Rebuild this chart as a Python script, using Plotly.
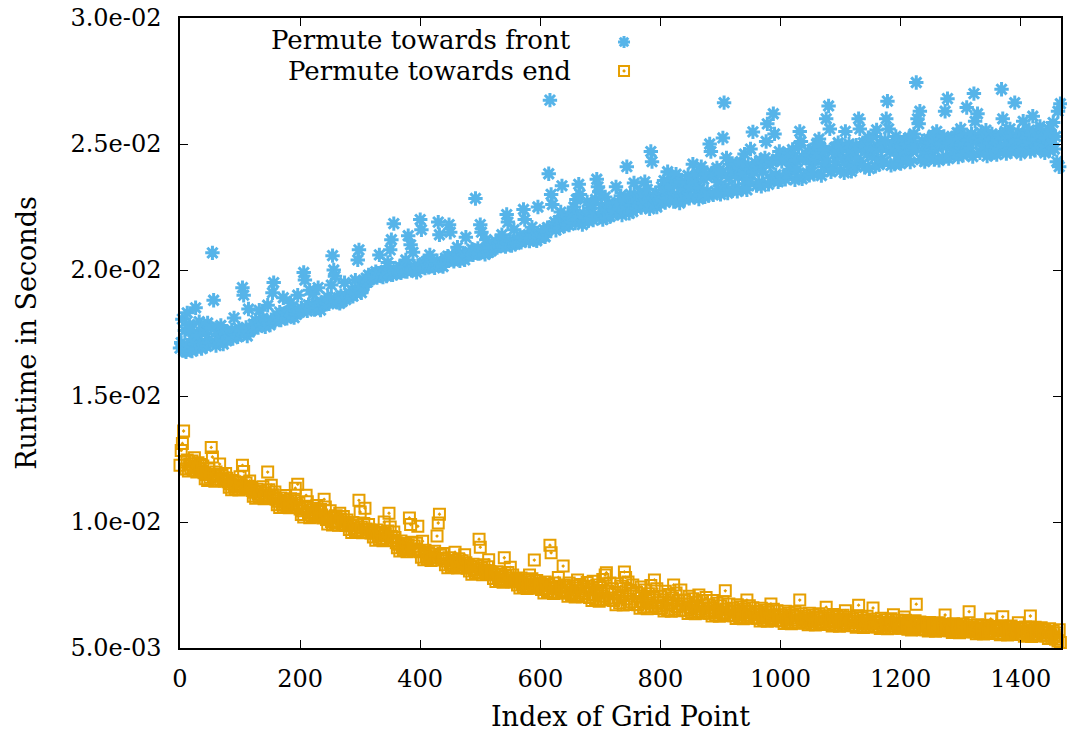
import plotly.graph_objects as go

# Measured runtimes in units of 1e-5 s, one value per even grid-point index (0, 2, 4, ...)
front_runtime = [
    1690, 1712, 1805, 1680, 1760, 1675, 1830, 1702, 1784, 1760, 1678, 1720, 1705, 1850, 1686, 1740, 1795, 1699, 1688, 1770,
    1702, 1750, 1697, 1790, 1725, 1709, 1770, 2068, 1880, 1715, 1700, 1760, 1740, 1711, 1780, 1722, 1706, 1755, 1745, 1719,
    1730, 1748, 1739, 1762, 1728, 1810, 1754, 1741, 1735, 1768, 1745, 1760, 1930, 1900, 1750, 1772, 1738, 1845, 1756, 1764,
    1768, 1785, 1776, 1800, 1790, 1772, 1840, 1795, 1781, 1808, 1787, 1775, 1799, 1860, 1791, 1782, 1803, 1910, 1950, 1796,
    1805, 1820, 1812, 1833, 1801, 1826, 1890, 1815, 1830, 1808, 1822, 1836, 1870, 1817, 1829, 1811, 1838, 1824, 1900, 1832,
    1835, 1848, 1840, 1990, 1960, 1852, 1838, 1861, 1920, 1845, 1858, 1905, 1843, 1866, 1850, 1930, 1856, 1841, 1863, 1870,
    1862, 1878, 1870, 1893, 1866, 1885, 1940, 2057, 2000, 1975, 1880, 1872, 1890, 1868, 1898, 1876, 1887, 1950, 1883, 1895,
    1893, 1908, 1900, 1921, 1896, 1915, 1960, 1905, 2040, 2080, 1918, 1910, 1927, 1935, 1955, 1968, 1952, 1980, 1962, 1975,
    1968, 1982, 1975, 1993, 1970, 1987, 2060, 1978, 1990, 1972, 1985, 1998, 1976, 2030, 1988, 2080, 2120, 1981, 2184, 1994,
    1987, 2001, 1992, 2013, 1989, 2008, 1996, 2011, 2040, 1994, 2136, 2005, 2100, 1999, 2070, 2015, 2002, 1991, 2018, 2009,
    2200, 2160, 2012, 2028, 2008, 2034, 2019, 2011, 2060, 2025, 2016, 2031, 2009, 2022, 2037, 2190, 2140, 2018, 2029, 2014,
    2032, 2047, 2038, 2055, 2180, 2150, 2041, 2058, 2035, 2050, 2044, 2090, 2061, 2037, 2053, 2046, 2059, 2040, 2130, 2057,
    2058, 2072, 2063, 2083, 2060, 2077, 2284, 2068, 2086, 2065, 2180, 2150, 2074, 2081, 2062, 2120, 2079, 2070, 2088, 2076,
    2087, 2100, 2092, 2113, 2089, 2106, 2095, 2111, 2140, 2098, 2108, 2093, 2220, 2190, 2104, 2116, 2097, 2110, 2160, 2102,
    2108, 2122, 2113, 2136, 2110, 2129, 2240, 2200, 2118, 2133, 2140, 2115, 2127, 2170, 2138, 2121, 2131, 2116, 2250, 2139,
    2128, 2147, 2135, 2160, 2132, 2155, 2168, 2382, 2674, 2300, 2260, 2175, 2190, 2158, 2182, 2196, 2166, 2230, 2334, 2188,
    2174, 2195, 2182, 2218, 2178, 2205, 2189, 2226, 2250, 2186, 2280, 2198, 2340, 2300, 2212, 2180, 2223, 2192, 2208, 2270,
    2195, 2230, 2205, 2260, 2198, 2215, 2280, 2360, 2330, 2310, 2210, 2245, 2200, 2225, 2290, 2207, 2238, 2265, 2212, 2250,
    2220, 2252, 2235, 2330, 2228, 2268, 2243, 2295, 2218, 2260, 2238, 2280, 2410, 2248, 2225, 2300, 2257, 2232, 2345, 2271,
    2245, 2278, 2255, 2310, 2248, 2290, 2265, 2350, 2252, 2320, 2270, 2243, 2470, 2430, 2285, 2260, 2305, 2250, 2295, 2275,
    2265, 2330, 2275, 2355, 2268, 2312, 2390, 2285, 2345, 2325, 2290, 2272, 2365, 2380, 2280, 2340, 2266, 2350, 2295, 2318,
    2280, 2350, 2292, 2375, 2285, 2330, 2365, 2420, 2288, 2345, 2300, 2385, 2282, 2325, 2410, 2296, 2360, 2290, 2380, 2312,
    2295, 2500, 2470, 2385, 2298, 2372, 2310, 2405, 2350, 2395, 2300, 2385, 2524, 2664, 2330, 2445, 2305, 2365, 2420, 2400,
    2315, 2392, 2328, 2420, 2312, 2370, 2405, 2430, 2320, 2380, 2460, 2342, 2318, 2415, 2360, 2480, 2400, 2548, 2388, 2425,
    2335, 2412, 2348, 2435, 2332, 2390, 2425, 2445, 2510, 2580, 2340, 2420, 2365, 2430, 2620, 2540, 2378, 2440, 2350, 2470,
    2358, 2430, 2370, 2455, 2360, 2440, 2380, 2465, 2400, 2420, 2478, 2450, 2358, 2435, 2398, 2490, 2550, 2510, 2362, 2445,
    2373, 2445, 2385, 2470, 2376, 2455, 2420, 2480, 2380, 2438, 2500, 2465, 2520, 2490, 2375, 2450, 2410, 2475, 2600, 2430,
    2651, 2560, 2390, 2475, 2400, 2485, 2430, 2460, 2505, 2470, 2395, 2490, 2440, 2386, 2550, 2480, 2420, 2500, 2455, 2392,
    2403, 2470, 2415, 2495, 2440, 2600, 2560, 2480, 2420, 2505, 2408, 2490, 2460, 2525, 2402, 2485, 2450, 2530, 2475, 2412,
    2556, 2480, 2418, 2505, 2440, 2495, 2430, 2515, 2600, 2670, 2560, 2470, 2415, 2500, 2485, 2420, 2530, 2510, 2455, 2490,
    2422, 2490, 2432, 2515, 2460, 2500, 2440, 2525, 2428, 2505, 2478, 2540, 2485, 2744, 2600, 2580, 2630, 2438, 2512, 2470,
    2430, 2495, 2440, 2520, 2465, 2505, 2450, 2535, 2438, 2510, 2550, 2485, 2435, 2518, 2500, 2445, 2530, 2630, 2490, 2680,
    2442, 2505, 2452, 2525, 2475, 2510, 2462, 2545, 2448, 2520, 2560, 2495, 2455, 2535, 2500, 2645, 2470, 2515, 2485, 2540,
    2450, 2700, 2590, 2510, 2620, 2525, 2465, 2545, 2480, 2515, 2495, 2555, 2452, 2530, 2505, 2460, 2540, 2490, 2520, 2470,
    2458, 2515, 2480, 2535, 2717, 2600, 2490, 2550, 2462, 2520, 2500, 2560, 2470, 2530, 2495, 2664, 2510, 2475, 2545, 2485,
    2462, 2515, 2590, 2540, 2480, 2525, 2495, 2555, 2470, 2535, 2610, 2505, 2475, 2550, 2520, 2485, 2570, 2500, 2530, 2478,
    2465, 2525, 2490, 2560, 2475, 2540, 2500, 2585, 2480, 2530, 2430, 2630, 2410, 2660,
]

end_runtime = [
    1225, 1284, 1312, 1361, 1238, 1210, 1246, 1202, 1230, 1215, 1242, 1205, 1255, 1220, 1198, 1235, 1212, 1228, 1200, 1222,
    1195, 1172, 1188, 1165, 1210, 1178, 1296, 1258, 1182, 1162, 1198, 1170, 1190, 1230, 1168, 1185, 1176, 1163, 1192, 1174,
    1160, 1138, 1152, 1128, 1165, 1145, 1132, 1158, 1140, 1127, 1180, 1148, 1225, 1200, 1135, 1155, 1130, 1142, 1163, 1137,
    1125, 1102, 1118, 1094, 1130, 1110, 1097, 1122, 1105, 1140, 1092, 1115, 1100, 1198, 1128, 1096, 1146, 1108, 1093, 1119,
    1090, 1068, 1082, 1058, 1095, 1072, 1061, 1086, 1105, 1065, 1078, 1057, 1092, 1070, 1059, 1084, 1134, 1066, 1150, 1075,
    1052, 1030, 1045, 1020, 1058, 1106, 1080, 1038, 1017, 1048, 1026, 1055, 1034, 1019, 1065, 1042, 1022, 1050, 1028, 1016,
    1090, 1060, 1010, 992, 1020, 1045, 1002, 988, 1018, 996, 1025, 1005, 987, 1035, 1012, 990, 1022, 999, 986, 1008,
    992, 970, 985, 958, 998, 975, 962, 988, 966, 1086, 1040, 980, 957, 994, 1055, 972, 960, 990, 968, 956,
    962, 940, 955, 928, 968, 945, 932, 958, 936, 926, 1000, 950, 930, 964, 1035, 980, 942, 927, 960, 938,
    918, 898, 912, 885, 925, 902, 890, 915, 895, 882, 908, 1016, 990, 920, 887, 905, 893, 916, 983, 884,
    882, 860, 924, 850, 888, 866, 853, 878, 857, 847, 872, 862, 884, 849, 944, 996, 1031, 868, 856, 875,
    852, 830, 845, 818, 858, 836, 822, 848, 826, 880, 840, 817, 854, 832, 820, 846, 828, 870, 838, 816,
    828, 806, 821, 793, 832, 812, 798, 824, 802, 932, 900, 816, 791, 830, 808, 796, 822, 850, 804, 792,
    798, 776, 791, 764, 803, 782, 768, 794, 772, 761, 858, 786, 766, 800, 778, 820, 763, 790, 770, 762,
    773, 750, 766, 738, 778, 756, 742, 770, 747, 736, 762, 790, 740, 775, 752, 849, 744, 768, 737, 758,
    756, 732, 748, 718, 762, 738, 724, 752, 908, 878, 742, 716, 758, 735, 720, 780, 745, 728, 717, 825,
    750, 722, 742, 705, 758, 730, 712, 746, 718, 702, 738, 770, 708, 752, 726, 703, 744, 716, 735, 760,
    745, 700, 730, 688, 765, 712, 695, 750, 720, 686, 740, 705, 772, 692, 790, 799, 725, 690, 758, 698,
    735, 688, 720, 672, 755, 700, 680, 745, 708, 671, 802, 780, 694, 762, 676, 728, 684, 750, 714, 673,
    720, 672, 705, 658, 742, 685, 664, 730, 692, 656, 715, 678, 748, 662, 700, 770, 668, 735, 680, 657,
    705, 660, 690, 647, 725, 672, 652, 712, 680, 646, 698, 750, 656, 718, 665, 688, 648, 730, 675, 650,
    690, 650, 675, 637, 705, 660, 642, 695, 666, 636, 682, 645, 710, 655, 640, 688, 670, 638, 700, 648,
    672, 638, 660, 627, 688, 645, 631, 678, 652, 626, 668, 640, 684, 634, 727, 655, 629, 675, 642, 628,
    658, 628, 648, 617, 672, 635, 621, 664, 640, 616, 655, 630, 690, 624, 668, 643, 618, 660, 633, 619,
    645, 618, 636, 607, 658, 624, 611, 650, 630, 606, 642, 620, 675, 613, 654, 627, 608, 648, 622, 609,
    632, 607, 624, 597, 646, 614, 601, 638, 618, 596, 630, 610, 644, 603, 626, 598, 690, 636, 612, 600,
    626, 600, 618, 592, 638, 607, 595, 630, 612, 591, 622, 604, 636, 597, 620, 603, 593, 628, 662, 606,
    620, 596, 612, 587, 633, 602, 590, 625, 606, 586, 616, 598, 630, 592, 648, 610, 588, 622, 600, 589,
    615, 590, 606, 582, 628, 670, 585, 620, 600, 581, 611, 594, 626, 587, 608, 597, 583, 659, 604, 584,
    606, 584, 598, 577, 618, 590, 580, 612, 594, 576, 602, 587, 616, 579, 632, 596, 578, 610, 588, 581,
    600, 578, 593, 623, 610, 585, 574, 605, 589, 571, 597, 581, 608, 674, 595, 576, 603, 586, 572, 598,
    592, 572, 586, 567, 601, 578, 569, 596, 582, 566, 590, 575, 600, 570, 588, 579, 568, 631, 594, 573,
    588, 568, 581, 562, 596, 574, 564, 591, 577, 561, 585, 570, 595, 566, 583, 575, 563, 644, 590, 569,
    583, 564, 577, 557, 592, 569, 559, 587, 572, 556, 580, 565, 590, 561, 578, 615, 558, 585, 567, 574,
    580, 560, 573, 553, 588, 624, 556, 583, 568, 552, 576, 562, 587, 558, 571, 565, 554, 581, 600, 563,
    575, 555, 568, 547, 583, 560, 550, 578, 627, 546, 571, 557, 582, 552, 565, 574, 548, 580, 562, 551,
    570, 548, 562, 538, 576, 553, 541, 566, 545, 535, 560, 528, 572, 522,
]

RUNTIME_UNIT = 1e-5  # seconds per stored unit
INDEX_STEP = 2       # grid-point index spacing of the stored samples

x_range = [0, 1467]
x_ticks = [0, 200, 400, 600, 800, 1000, 1200, 1400]
y_range = [0.005, 0.030]
y_ticks = [0.005, 0.010, 0.015, 0.020, 0.025, 0.030]
y_tick_text = ["5.0e-03", "1.0e-02", "1.5e-02", "2.0e-02", "2.5e-02", "3.0e-02"]

series_names = ["Permute towards front", "Permute towards end"]
series_colors = ["#56B4E9", "#E69F00"]
series_symbols = ["asterisk-open", "square-open-dot"]
series_sizes = [12, 11]
series_line_widths = [3, 2]

FONT = "DejaVu Serif"


def sample_index(values):
    return [INDEX_STEP * i for i in range(len(values))]


def seconds(values):
    return [v * RUNTIME_UNIT for v in values]


fig = go.Figure()

for values, name, color, symbol, size, lw in zip(
    [front_runtime, end_runtime], series_names, series_colors, series_symbols,
    series_sizes, series_line_widths
):
    fig.add_trace(
        go.Scatter(
            x=sample_index(values),
            y=seconds(values),
            mode="markers",
            name=name,
            cliponaxis=False,
            marker=dict(symbol=symbol, size=size, color=color,
                        line=dict(color=color, width=lw)),
            showlegend=False,
        )
    )

# gnuplot-style key: right-aligned text followed by the point sample,
# placed on an overlay axis spanning [0, 1] over the plot area
key_x = 0.504
key_y = [0.962, 0.916]
key_text_x = 0.446
key_text_y = [0.9651, 0.916]

for name, color, symbol, size, lw, ky in zip(series_names, series_colors, series_symbols,
                                              series_sizes, series_line_widths, key_y):
    fig.add_trace(
        go.Scatter(
            x=[key_x], y=[ky], xaxis="x2", yaxis="y2", mode="markers",
            marker=dict(symbol=symbol, size=10, color=color, line=dict(color=color, width=lw)),
            showlegend=False, hoverinfo="skip",
        )
    )

annotations = [
    dict(text=name, x=key_text_x, y=ty, xref="paper", yref="paper",
         xanchor="right", yanchor="middle", showarrow=False,
         font=dict(family=FONT, size=26, color="black"))
    for name, ty in zip(series_names, key_text_y)
]

axis_common = dict(
    showline=True, linecolor="black", linewidth=1.5, mirror="ticks",
    ticks="inside", ticklen=8, tickwidth=1, tickcolor="black",
    showgrid=False, zeroline=False,
    tickfont=dict(family=FONT, size=24, color="black"),
)

fig.update_layout(
    width=1067, height=740,
    margin=dict(l=180, r=4, t=17, b=92),
    paper_bgcolor="white", plot_bgcolor="white",
    showlegend=False,
    font=dict(family=FONT, color="black"),
    annotations=annotations,
    xaxis=dict(
        range=x_range, tickvals=x_ticks, **axis_common,
        ticklabelstandoff=8,
        title=dict(text="Index of Grid Point", font=dict(family=FONT, size=27), standoff=16),
    ),
    yaxis=dict(
        range=y_range, tickvals=y_ticks, ticktext=y_tick_text, **axis_common,
        ticklabelstandoff=12,
        title=dict(text="Runtime in Seconds", font=dict(family=FONT, size=27), standoff=26),
    ),
    xaxis2=dict(overlaying="x", range=[0, 1], visible=False, fixedrange=True),
    yaxis2=dict(overlaying="y", range=[0, 1], visible=False, fixedrange=True),
)

fig.write_html("out.html")
